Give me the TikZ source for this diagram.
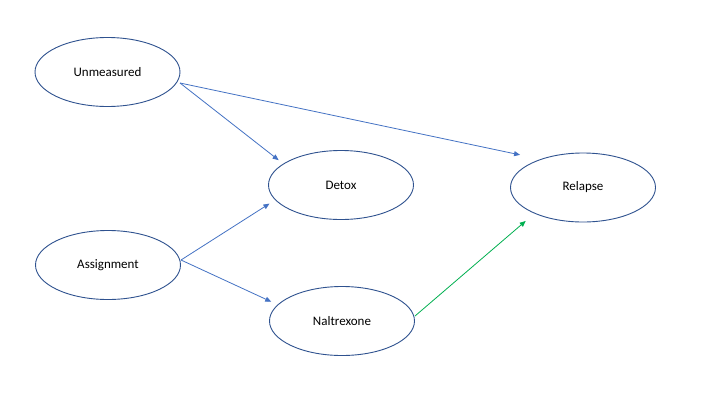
\documentclass[tikz,border=0pt]{standalone}
\usepackage{fontspec}
\setmainfont{Carlito}
\usetikzlibrary{shapes.geometric,arrows.meta}
\definecolor{elline}{HTML}{2F528F}
\definecolor{arrblue}{HTML}{4472C4}
\definecolor{arrgreen}{HTML}{00B050}
\tikzset{
  var/.style={draw=elline, line width=0.9pt, ellipse, minimum width=145pt, minimum height=69pt, inner sep=0pt, font=\fontsize{13}{15}\selectfont},
  link/.style={draw=arrblue, line width=0.8pt, -{Triangle[length=6pt,width=5pt]}, shorten >=3pt},
  glink/.style={link, draw=arrgreen}
}
\begin{document}
\begin{tikzpicture}[x=1pt,y=-1pt]
\useasboundingbox[fill=white] (0,0) rectangle (720,405);
\node[var] (u) at (107.5,72) {Unmeasured};
\node[var] (a) at (108,265) {Assignment};
\node[var] (d) at (341,185) {Detox};
\node[var] (n) at (342,321) {Naltrexone};
\node[var] (r) at (583,187.5) {Relapse};
\coordinate (u1) at (180,83);
\coordinate (a1) at (181,260);
\coordinate (n1) at (415,316);
\coordinate (dt) at (281,162);
\coordinate (rt) at (523,155.5);
\coordinate (dl) at (272,202);
\coordinate (nt) at (274,303);
\coordinate (rb) at (528,219);
\draw[link] (u1) -- (dt);
\draw[link] (u1) -- (rt);
\draw[link] (a1) -- (dl);
\draw[link] (a1) -- (nt);
\draw[glink] (n1) -- (rb);
\end{tikzpicture}
\end{document}
